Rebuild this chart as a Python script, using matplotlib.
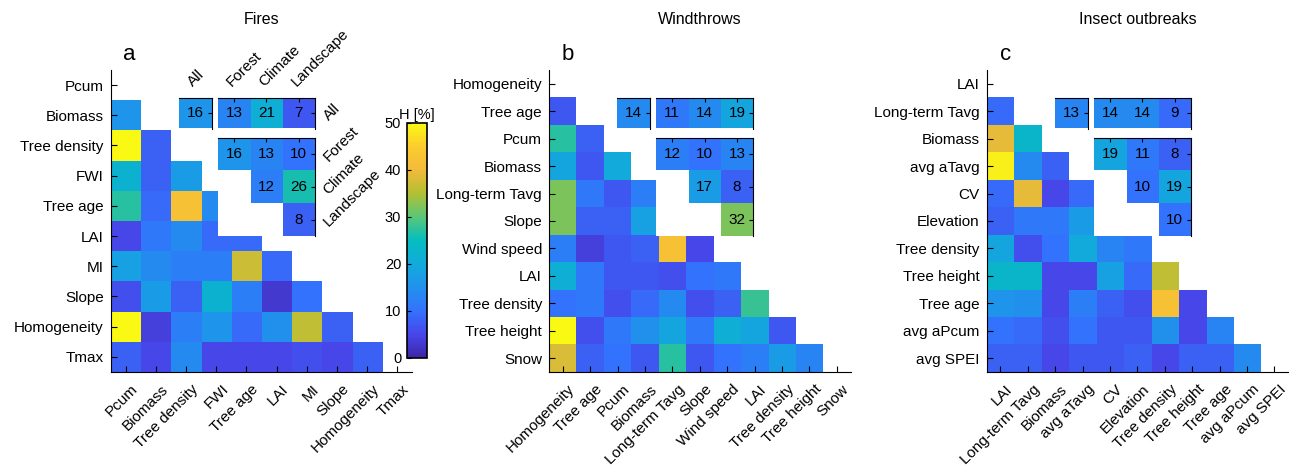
import numpy as np
import matplotlib.pyplot as plt
import matplotlib.transforms as mtransforms
from matplotlib.colors import LinearSegmentedColormap, Normalize

plt.rcParams['font.family'] = ['Liberation Sans', 'DejaVu Sans']

# ---- data (H in %) ----
fires_vars = ["Pcum", "Biomass", "Tree density", "FWI", "Tree age", "LAI",
              "MI", "Slope", "Homogeneity", "Tmax"]
fires_rows = [
    [],
    [16],
    [50, 8],
    [22, 8, 17],
    [27, 9, 42, 14],
    [5, 11, 14, 9, 9],
    [18, 14, 12, 12, 37, 9],
    [6, 17, 8, 22, 12, 3, 10],
    [50, 4, 12, 16, 9, 15, 36, 8],
    [8, 5, 14, 5, 5, 5, 6, 5, 8],
]
fires_all = 16
fires_group = [13, 21, 7]
fires_pairs = [[16, 13, 10], [12, 26], [8]]

wind_vars = ["Homogeneity", "Tree age", "Pcum", "Biomass", "Long-term Tavg",
             "Slope", "Wind speed", "LAI", "Tree density", "Tree height", "Snow"]
wind_rows = [
    [],
    [7],
    [27, 8],
    [19, 7, 20],
    [32, 11, 7, 12],
    [32, 8, 8, 18, 8],
    [12, 4, 7, 8, 42, 5],
    [21, 11, 7, 7, 6, 10, 11],
    [10, 11, 6, 9, 14, 6, 8, 28],
    [50, 6, 11, 15, 19, 11, 21, 19, 7],
    [38, 8, 10, 7, 27, 7, 10, 12, 17, 13],
]
wind_all = 14
wind_group = [11, 14, 19]
wind_pairs = [[12, 10, 13], [17, 8], [32]]

insect_vars = ["LAI", "Long-term Tavg", "Biomass", "avg aTavg", "CV", "Elevation",
               "Tree density", "Tree height", "Tree age", "avg aPcum", "avg SPEI"]
insect_rows = [
    [],
    [9],
    [39, 23],
    [49, 14, 8],
    [9, 39, 5, 9],
    [8, 11, 11, 17, 9],
    [19, 6, 10, 20, 13, 11],
    [23, 23, 5, 5, 18, 9, 36],
    [16, 15, 5, 12, 8, 6, 42, 5],
    [10, 9, 6, 10, 7, 7, 15, 5, 13],
    [8, 8, 5, 7, 7, 8, 5, 8, 8, 14],
]
insect_all = 13
insect_group = [14, 14, 9]
insect_pairs = [[19, 11, 8], [10, 19], [10]]

group_labels = ["Forest", "Climate", "Landscape"]

# parula-like colormap
cmap = LinearSegmentedColormap.from_list("parula_like", [
    (0.00, (0.24, 0.15, 0.66)),
    (0.10, (0.28, 0.28, 0.92)),
    (0.20, (0.20, 0.45, 0.99)),
    (0.30, (0.13, 0.57, 0.93)),
    (0.40, (0.07, 0.67, 0.86)),
    (0.50, (0.02, 0.74, 0.75)),
    (0.60, (0.35, 0.78, 0.47)),
    (0.70, (0.70, 0.75, 0.20)),
    (0.80, (0.95, 0.73, 0.23)),
    (0.90, (0.99, 0.80, 0.18)),
    (1.00, (0.98, 0.98, 0.08)),
])
cmap.set_bad("white")
norm = Normalize(0, 50)

W, H = 1291, 468
fig = plt.figure(figsize=(W / 100, H / 100), dpi=100)


def box(x0, y0, x1, y1):
    return [x0 / W, 1 - y1 / H, (x1 - x0) / W, (y1 - y0) / H]


def tri_matrix(rows):
    n = len(rows)
    m = np.full((n, n), np.nan)
    for i, r in enumerate(rows):
        for j, v in enumerate(r):
            m[i, j] = v
    return np.ma.masked_invalid(m)


def style_inset(ax, nx, ny, xticks=True):
    for s in ("left", "bottom"):
        ax.spines[s].set_visible(False)
    ax.xaxis.tick_top()
    ax.yaxis.tick_right()
    ax.set_xticks(range(nx) if xticks else [])
    ax.set_yticks(range(ny))
    ax.set_xticklabels([])
    ax.set_yticklabels([])
    ax.tick_params(direction="in", length=3, width=0.8)


def cell_text(ax, x, y, v):
    ax.text(x, y, str(v), ha="center", va="center", fontsize=11)


def draw_panel(L, names, rows, all_val, group, pairs, title, letter, labels=False):
    n = len(names)
    ax = fig.add_axes(box(L, 70, L + 301.5, 372))
    im = ax.imshow(tri_matrix(rows), cmap=cmap, norm=norm, aspect="auto",
                   interpolation="nearest")
    ax.set_xticks(range(n))
    ax.set_yticks(range(n))
    ax.set_yticklabels(names, fontsize=11)
    ax.set_xticklabels(names, fontsize=11, rotation=45, ha="right",
                       rotation_mode="anchor")
    ax.tick_params(direction="in", length=4, width=0.8, pad=5)
    # MATLAB puts the rotated labels a little further right / lower
    off = mtransforms.ScaledTranslation(5 / 100, -3 / 100, fig.dpi_scale_trans)
    for lab in ax.get_xticklabels():
        lab.set_transform(lab.get_transform() + off)
    for s in ("top", "right"):
        ax.spines[s].set_visible(False)
    ax.set_xlim(-0.5, n - 0.5)
    ax.set_ylim(n - 0.5, -0.5)

    fig.text((L + 150.7) / W, 1 - 19 / H, title, ha="center", va="center", fontsize=11.5)
    fig.text((L + 19) / W, 1 - 55 / H, letter, ha="center", va="center", fontsize=16)

    # inset: all
    a1 = fig.add_axes(box(L + 68, 97.5, L + 101.3, 128.5))
    a1.imshow([[all_val]], cmap=cmap, norm=norm, aspect="auto")
    style_inset(a1, 1, 1, xticks=False)
    cell_text(a1, 0, 0, all_val)

    # inset: group row
    a2 = fig.add_axes(box(L + 107, 97.5, L + 204.3, 128.5))
    a2.imshow([group], cmap=cmap, norm=norm, aspect="auto")
    style_inset(a2, 3, 1)
    for j, v in enumerate(group):
        cell_text(a2, j, 0, v)

    # inset: pairwise groups
    pm = np.full((3, 3), np.nan)
    for i, r in enumerate(pairs):
        for k, v in enumerate(r):
            pm[i, i + k] = v
    a3 = fig.add_axes(box(L + 107, 137.5, L + 204.3, 236))
    a3.imshow(np.ma.masked_invalid(pm), cmap=cmap, norm=norm, aspect="auto")
    style_inset(a3, 3, 3)
    for i, r in enumerate(pairs):
        for k, v in enumerate(r):
            cell_text(a3, i + k, i, v)

    if labels:
        tops = [("All", L + 84.6)] + [(g, L + 107 + 16.2 + 32.4 * k)
                                      for k, g in enumerate(group_labels)]
        for t, x in tops:
            fig.text(x / W, 1 - 89 / H, t, rotation=45, ha="left", va="bottom",
                     rotation_mode="anchor", fontsize=11)
        rights = [("All", 113)] + [(g, 137.5 + 16.4 + 32.8 * k)
                                   for k, g in enumerate(group_labels)]
        for t, y in rights:
            fig.text((L + 215) / W, 1 - (y + 5) / H, t, rotation=45, ha="left",
                     va="center", rotation_mode="anchor", fontsize=11)
    return im


im = draw_panel(110.7, fires_vars, fires_rows, fires_all, fires_group, fires_pairs,
                "Fires", "a", labels=True)
draw_panel(549, wind_vars, wind_rows, wind_all, wind_group, wind_pairs,
           "Windthrows", "b")
draw_panel(986.7, insect_vars, insect_rows, insect_all, insect_group, insect_pairs,
           "Insect outbreaks", "c")

cax = fig.add_axes(box(406.7, 122.7, 426.7, 357.7))
cb = fig.colorbar(im, cax=cax)
cb.set_ticks([0, 10, 20, 30, 40, 50])
cax.yaxis.set_ticks_position("left")
cax.yaxis.set_label_position("left")
cax.tick_params(direction="in", length=3, width=0.8, labelsize=10.5, pad=4)
cb.outline.set_linewidth(1.2)
cax.set_title("H [%]", fontsize=10.5, pad=3)

fig.savefig("out.png", dpi=100)
